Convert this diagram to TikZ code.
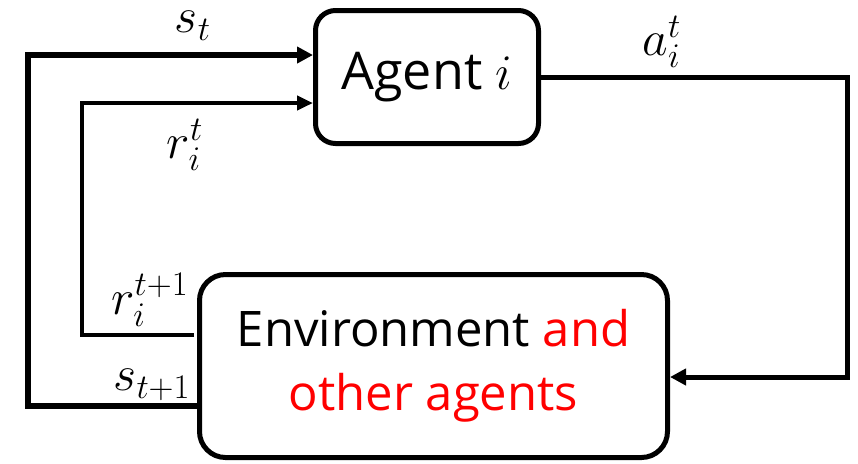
\documentclass[tikz,border=0pt]{standalone}
\usepackage{fontspec}
\setmainfont{Open Sans}
\usepackage{tikz}
\usetikzlibrary{calc,positioning,arrows.meta}
\definecolor{envred}{RGB}{255,0,0}

\begin{document}
\begin{tikzpicture}[x=0.5pt,y=-0.5pt]

\tikzset{boxnode/.style={draw,line width=2.5pt,rounded corners=10pt,inner sep=0pt,align=center},
bigline/.style={line width=3pt,-{Triangle[length=8pt,width=8pt]}},
midline/.style={line width=2.5pt,-{Triangle[length=8pt,width=8pt]}},
thinline/.style={line width=2pt,-{Triangle[length=8pt,width=7pt]}},
lbl/.style={font=\fontsize{23}{26}\selectfont,inner sep=0pt}}

\useasboundingbox (0,0) rectangle (858,463);

% Boxes
\node[boxnode,minimum width=111.5pt,minimum height=66.5pt,font=\fontsize{26}{30}\selectfont] (agent) at (427,77) {Agent $i$};
\node[boxnode,minimum width=234pt,minimum height=91.5pt,rounded corners=13pt,font=\fontsize{24.5}{32}\selectfont] (env) at (433.5,366) {Environment \textcolor{envred}{and}\\\textcolor{envred}{other agents}};

% Turning points
\coordinate (sCorner) at (27.5,55);
\coordinate (rCorner) at (81.5,103);
\coordinate (aCorner) at (847,377);

% Edges
\draw[bigline] ($(env.west)+(0,40)$) -| (sCorner) -- (agent.west |- sCorner);
\draw[thinline] ($(env.west)+(-3,-31)$) -| (rCorner) -- (agent.west |- rCorner);
\draw[midline] (agent.east) -| (aCorner) -- (env.east |- aCorner);

% Labels
\node[lbl] (stLbl) at (193,26) {$s_t$};
\node[lbl] (rtLbl) at (185,145) {$r_i^t$};
\node[lbl] (atLbl) at (662,42) {$a_i^t$};
\node[lbl] (rnLbl) at (150,300) {$r_i^{t+1}$};
\node[lbl] (snLbl) at (152,385) {$s_{t+1}$};

\end{tikzpicture}
\end{document}
